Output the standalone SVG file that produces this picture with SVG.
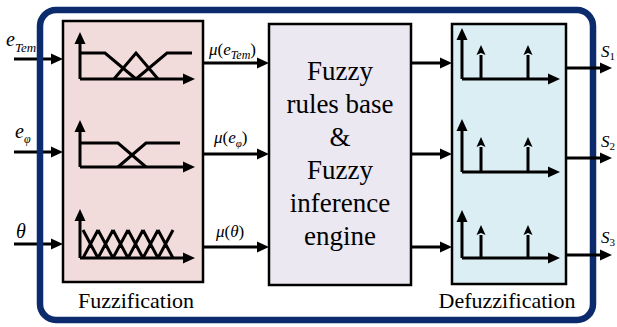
<svg xmlns="http://www.w3.org/2000/svg" width="617" height="327" viewBox="0 0 617 327">
<style>
.frame{fill:none;stroke:#0c2b6c;stroke-width:6.5}
.box{stroke:#000;stroke-width:2.5}
.ln{fill:none;stroke:#000;stroke-width:3;stroke-linejoin:miter}
.ax{fill:none;stroke:#000;stroke-width:3}
.sg{fill:none;stroke:#000;stroke-width:3}
text{font-family:'Liberation Serif','Times New Roman',serif;fill:#000}
.it{font-style:italic}
</style>
<defs>
<marker id="ah" markerUnits="userSpaceOnUse" markerWidth="12" markerHeight="12" viewBox="0 0 12 12" refX="0" refY="6" orient="auto"><path d="M0,0.5 L12,6 L0,11.5z" fill="#000"/></marker>
<marker id="sh" markerUnits="userSpaceOnUse" markerWidth="10" markerHeight="10" viewBox="0 0 10 10" refX="0" refY="5" orient="auto"><path d="M0,0.5 L10,5 L0,9.5 L2,5z" fill="#000"/></marker>
</defs>
<rect x="40" y="10" width="553" height="310" rx="16" fill="#fff"/>

<g id="inputs">
<line class="ax" x1="14" y1="59" x2="51" y2="59" marker-end="url(#ah)"/>
<line class="ax" x1="14" y1="152" x2="51" y2="152" marker-end="url(#ah)"/>
<line class="ax" x1="14" y1="244" x2="51" y2="244" marker-end="url(#ah)"/>
</g>
<rect class="frame" x="40" y="10" width="553" height="310" rx="16"/>

<g id="fuzzification">
<rect class="box" x="63" y="21" width="140" height="261" fill="#f2dcdb"/>
<line class="ax" x1="80" y1="79" x2="80" y2="44" marker-end="url(#ah)"/>
<line class="ax" x1="80" y1="79" x2="183" y2="79" marker-end="url(#ah)"/>
<polyline class="ln" points="81,53 105,53 136,79"/>
<polyline class="ln" points="114,79 136,53 158,79"/>
<polyline class="ln" points="136,79 167,53 192,53"/>
<line class="ax" x1="80" y1="167" x2="80" y2="132" marker-end="url(#ah)"/>
<line class="ax" x1="80" y1="167" x2="183" y2="167" marker-end="url(#ah)"/>
<polyline class="ln" points="81,143 118,143 146,167"/>
<polyline class="ln" points="118,167 146,143 180,143"/>
<line class="ax" x1="80" y1="258" x2="80" y2="221" marker-end="url(#ah)"/>
<line class="ax" x1="80" y1="258" x2="183" y2="258" marker-end="url(#ah)"/>
<path class="ln" d="M83,230 L98,258 M98,230 L113,258 M113,230 L128,258 M128,230 L143,258 M143,230 L158,258 M158,230 L173,258 M83,258 L98,230 M98,258 L113,230 M113,258 L128,230 M128,258 L143,230 M143,258 L158,230 M158,258 L173,230"/>
<text x="136" y="308" font-size="22" text-anchor="middle">Fuzzification</text>
</g>

<g id="rules">
<rect class="box" x="269" y="24" width="142" height="261" fill="#ebe8f1"/>
<g font-size="27" text-anchor="middle">
<text x="340" y="80">Fuzzy</text>
<text x="340" y="113">rules base</text>
<text x="340" y="146">&amp;</text>
<text x="340" y="179">Fuzzy</text>
<text x="340" y="212">inference</text>
<text x="340" y="245">engine</text>
</g>
</g>

<g id="defuzzification">
<rect class="box" x="452" y="24" width="114" height="260" fill="#dbeef4"/>
<line class="ax" x1="462" y1="79" x2="462" y2="40" marker-end="url(#ah)"/>
<line class="ax" x1="462" y1="79" x2="548" y2="79" marker-end="url(#ah)"/>
<line class="sg" x1="481" y1="79" x2="481" y2="55" marker-end="url(#sh)"/>
<line class="sg" x1="528" y1="79" x2="528" y2="55" marker-end="url(#sh)"/>
<line class="ax" x1="462" y1="172" x2="462" y2="131" marker-end="url(#ah)"/>
<line class="ax" x1="462" y1="172" x2="548" y2="172" marker-end="url(#ah)"/>
<line class="sg" x1="481" y1="172" x2="481" y2="147" marker-end="url(#sh)"/>
<line class="sg" x1="528" y1="172" x2="528" y2="147" marker-end="url(#sh)"/>
<line class="ax" x1="462" y1="258" x2="462" y2="222" marker-end="url(#ah)"/>
<line class="ax" x1="462" y1="258" x2="548" y2="258" marker-end="url(#ah)"/>
<line class="sg" x1="481" y1="258" x2="481" y2="235" marker-end="url(#sh)"/>
<line class="sg" x1="528" y1="258" x2="528" y2="235" marker-end="url(#sh)"/>
<text x="507" y="308" font-size="22" text-anchor="middle">Defuzzification</text>
</g>

<g id="connectors">
<line class="ax" x1="203" y1="63" x2="257" y2="63" marker-end="url(#ah)"/>
<line class="ax" x1="203" y1="154" x2="257" y2="154" marker-end="url(#ah)"/>
<line class="ax" x1="203" y1="247" x2="257" y2="247" marker-end="url(#ah)"/>
<line class="ax" x1="411" y1="63" x2="440" y2="63" marker-end="url(#ah)"/>
<line class="ax" x1="411" y1="154" x2="440" y2="154" marker-end="url(#ah)"/>
<line class="ax" x1="411" y1="247" x2="440" y2="247" marker-end="url(#ah)"/>
<line class="ax" x1="566" y1="68" x2="600" y2="68" marker-end="url(#ah)"/>
<line class="ax" x1="566" y1="158" x2="600" y2="158" marker-end="url(#ah)"/>
<line class="ax" x1="566" y1="255" x2="600" y2="255" marker-end="url(#ah)"/>
</g>

<g id="labels" class="it">
<text x="6" y="46" font-size="20">e<tspan font-size="13" dy="6">Tem</tspan></text>
<text x="15" y="138" font-size="20">e<tspan font-size="12" dy="5">φ</tspan></text>
<text x="16" y="238" font-size="20">θ</text>
<text x="209" y="55" font-size="17">μ<tspan font-style="normal">(</tspan>e<tspan font-size="12" dy="4">Tem</tspan><tspan font-style="normal" dy="-4">)</tspan></text>
<text x="214" y="143" font-size="17">μ<tspan font-style="normal">(</tspan>e<tspan font-size="11" dy="4">φ</tspan><tspan font-style="normal" dy="-4">)</tspan></text>
<text x="216" y="237" font-size="17">μ<tspan font-style="normal">(</tspan>θ<tspan font-style="normal">)</tspan></text>
<text x="601" y="57" font-size="17">S<tspan font-style="normal" font-size="11" dy="3">1</tspan></text>
<text x="601" y="147" font-size="17">S<tspan font-style="normal" font-size="11" dy="3">2</tspan></text>
<text x="601" y="243" font-size="17">S<tspan font-style="normal" font-size="11" dy="3">3</tspan></text>
</g>
</svg>
